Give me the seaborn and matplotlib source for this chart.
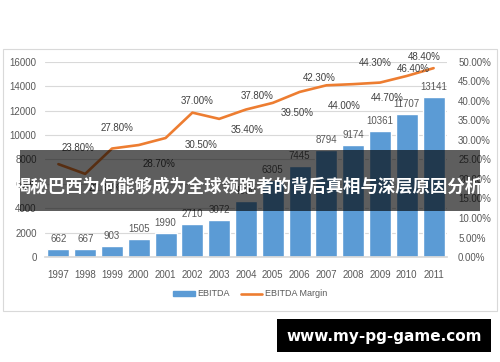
import matplotlib
matplotlib.use("Agg")
import matplotlib.pyplot as plt
import matplotlib.patches as mpatches
from matplotlib.lines import Line2D
from matplotlib.ticker import FuncFormatter, MultipleLocator
import seaborn as sns
import pandas as pd

years = ["1997", "1998", "1999", "2000", "2001", "2002", "2003", "2004",
         "2005", "2006", "2007", "2008", "2009", "2010", "2011"]
ebitda = [662, 667, 903, 1505, 1990, 2710, 3072, 4600,
          6305, 7445, 8794, 9174, 10361, 11707, 13141]
margin = [23.8, 21.3, 27.8, 28.7, 30.5, 37.0, 35.4, 37.8,
          39.5, 42.3, 44.0, 44.3, 44.7, 46.4, 48.4]
banner_title = "揭秘巴西为何能够成为全球领跑者的背后真相与深层原因分析"
watermark = "www.my-pg-game.com"

# label offsets in pixels (dx, dy screen-down) for margin labels
margin_offsets = [(20, -16), (20, 14), (5, -21), (20, 19), (36, 7), (5, -12),
                  (28, 11), (11, -14), (24, 10), (20, -14), (18, 21),
                  (22, -21), (7, 15), (7, -7), (-9, -11)]

sns.set_theme(style="white")
plt.rcParams['font.family'] = ['Liberation Sans', 'DejaVu Sans']

BLUE = "#5B9BD5"
ORANGE = "#ED7D31"
GRAY = "#595959"

df = pd.DataFrame({"year": years, "ebitda": ebitda,
                   "margin": [m / 100 for m in margin],
                   "pos": list(range(len(years)))})

fig = plt.figure(figsize=(5, 3.62), dpi=100)
fig.patch.set_facecolor("white")
ax = fig.add_axes([0.09, 0.29, 0.804, 0.539])

# outer chart frame
fig.patches.append(mpatches.Rectangle((3 / 500, 1 - 311 / 362), 494 / 500, 262 / 362,
                                      transform=fig.transFigure, fill=False,
                                      edgecolor="#d9d9d9", linewidth=0.8, zorder=0))

sns.barplot(data=df, x="year", y="ebitda", color=BLUE, saturation=1,
            width=0.82, ax=ax, zorder=2)
ax.set_ylim(0, 16000)
ax.set_xlim(-0.5, len(years) - 0.5)
ax.yaxis.set_major_locator(MultipleLocator(2000))
ax.grid(axis="y", color="#d9d9d9", linewidth=0.8, zorder=0)
ax.set_axisbelow(True)
ax.set_xlabel("")
ax.set_ylabel("")
for s in ["top", "right", "left"]:
    ax.spines[s].set_visible(False)
ax.spines["bottom"].set_color("#d9d9d9")
ax.tick_params(axis="both", length=0, labelsize=7, labelcolor=GRAY)
ax.tick_params(axis="x", pad=9)
ax.tick_params(axis="y", pad=6)

for i, v in enumerate(ebitda):
    ax.annotate(str(v), (i, v), xytext=(0, 10), textcoords="offset pixels",
                ha="center", va="center", fontsize=7, color=GRAY)

ax2 = ax.twinx()
sns.lineplot(data=df, x="pos", y="margin", color=ORANGE, linewidth=1.9, ax=ax2,
             zorder=3)
ax2.set_ylim(0, 0.5)
ax2.set_xlim(-0.5, len(years) - 0.5)
ax2.yaxis.set_major_locator(MultipleLocator(0.05))
ax2.yaxis.set_major_formatter(FuncFormatter(lambda v, p: f"{v * 100:.2f}%"))
ax2.set_ylabel("")
ax2.set_xlabel("")
for s in ["top", "right", "left", "bottom"]:
    ax2.spines[s].set_visible(False)
ax2.tick_params(axis="y", length=0, labelsize=7, labelcolor=GRAY, pad=8)

for i, m in enumerate(margin):
    dx, dy = margin_offsets[i]
    ax2.annotate(f"{m:.2f}%", (i, m / 100), xytext=(dx, -dy),
                 textcoords="offset pixels", ha="center", va="center",
                 fontsize=7, color="#404040")

handles = [mpatches.Patch(color=BLUE, label="EBITDA"),
           Line2D([0], [0], color=ORANGE, linewidth=1.9, label="EBITDA Margin")]
fig.legend(handles=handles, loc="center", bbox_to_anchor=(0.5, 1 - 294 / 362),
           ncol=2, frameon=False, fontsize=6.5, labelcolor=GRAY,
           handlelength=2.4, handleheight=0.5, columnspacing=1.2,
           handletextpad=0.3)

# dark banner overlay
fig.patches.append(mpatches.Rectangle((20 / 500, 1 - 211 / 362), 460 / 500, 61 / 362,
                                      transform=fig.transFigure, facecolor="black",
                                      alpha=0.63, edgecolor="none", zorder=10))
fig.text(248 / 500, 1 - 187 / 362, banner_title, ha="center", va="center",
         color="white", fontsize=12.5, fontweight="bold",
         family=["Noto Sans CJK SC", "DejaVu Sans"], zorder=11)

# watermark box
fig.patches.append(mpatches.Rectangle((277 / 500, 1 - 352 / 362), 214 / 500, 33 / 362,
                                      transform=fig.transFigure, facecolor="black",
                                      edgecolor="none", zorder=10))
fig.text(384 / 500, 1 - 336 / 362, watermark, ha="center", va="center",
         color="white", fontsize=11, fontweight="bold",
         family=["DejaVu Sans"], zorder=11)

fig.savefig("out.png", dpi=100)
